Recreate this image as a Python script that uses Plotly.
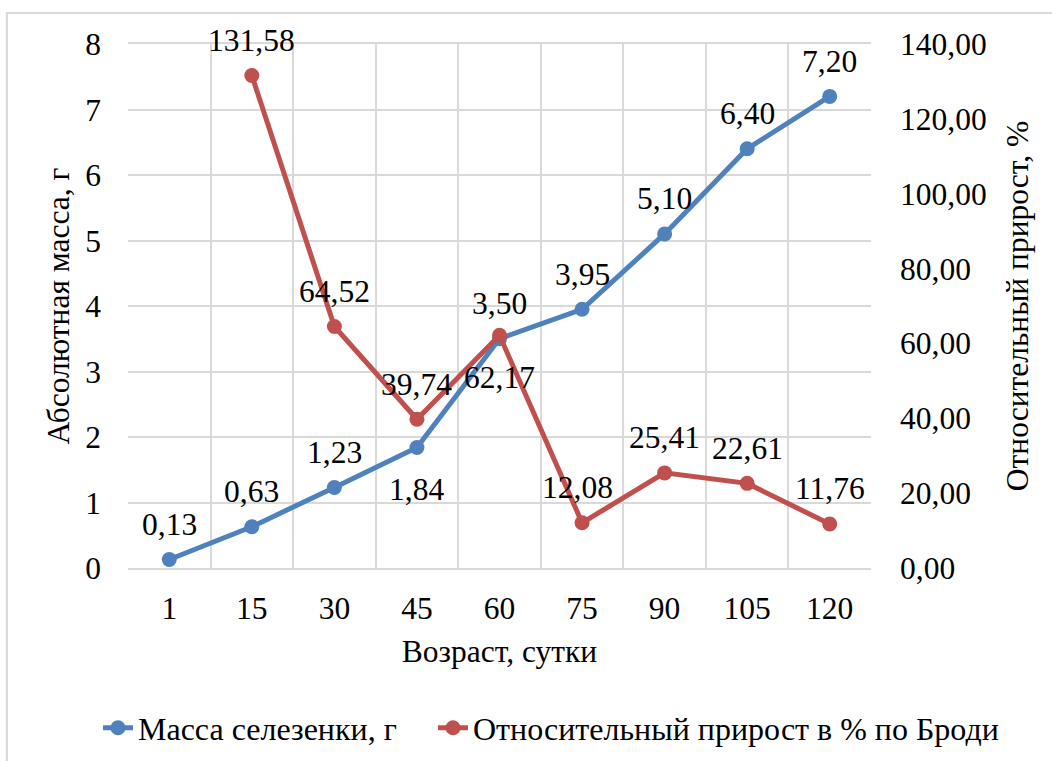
import plotly.graph_objects as go

# Age categories, days
age_days = ["1", "15", "30", "45", "60", "75", "90", "105", "120"]
# Spleen mass, g
spleen_mass = [0.13, 0.63, 1.23, 1.84, 3.50, 3.95, 5.10, 6.40, 7.20]
# Relative growth by Brody, %
brody_growth = [None, 131.58, 64.52, 39.74, 62.17, 12.08, 25.41, 22.61, 11.76]

left_ticks = [0, 1, 2, 3, 4, 5, 6, 7, 8]
right_ticks = [0, 20, 40, 60, 80, 100, 120, 140]

BLUE = "#4F81BD"
RED = "#C0504D"
GRID = "#D9D9D9"
FONT = "Liberation Serif"
FS = 31.5


def fmt(v):
    return f"{v:.2f}".replace(".", ",")


# Labels above the point, except where they would collide
mass_below = {"45"}
growth_below = {"60"}
growth_left = {"75"}

fig = go.Figure()
fig.add_trace(go.Scatter(
    x=age_days, y=spleen_mass, name="Масса селезенки, г",
    mode="lines+markers", legend="legend",
    line=dict(color=BLUE, width=5),
    marker=dict(color=BLUE, size=15),
))
fig.add_trace(go.Scatter(
    x=age_days, y=brody_growth, name="Относительный прирост в % по Броди",
    mode="lines+markers", yaxis="y2", legend="legend2",
    line=dict(color=RED, width=5),
    marker=dict(color=RED, size=15),
))

# Data labels; on a category axis annotations are placed by category index
annotations = []
for i, (xv, yv) in enumerate(zip(age_days, spleen_mass)):
    annotations.append(dict(
        x=i, y=yv, xref="x", yref="y", text=fmt(yv), showarrow=False,
        yshift=-42 if xv in mass_below else 35,
        font=dict(family=FONT, size=FS, color="black"),
    ))
for i, (xv, yv) in enumerate(zip(age_days, brody_growth)):
    if yv is None:
        continue
    annotations.append(dict(
        x=i, y=yv, xref="x", yref="y2", text=fmt(yv), showarrow=False,
        yshift=-42 if xv in growth_below else 35,
        xshift=-5 if xv in growth_left else 0,
        font=dict(family=FONT, size=FS, color="black"),
    ))

fig.update_layout(
    width=1052, height=761,
    margin=dict(l=128, r=181, t=44, b=193, autoexpand=False),
    paper_bgcolor="white", plot_bgcolor="white",
    separators=", ",
    font=dict(family=FONT, size=FS, color="black"),
    annotations=annotations,
    xaxis=dict(
        type="category", categoryorder="array", categoryarray=age_days,
        range=[-0.5, len(age_days) - 0.5], tickangle=0,
        tickson="boundaries", ticks="",
        showgrid=True, gridcolor=GRID, gridwidth=2,
        showline=True, linecolor=GRID, linewidth=2, mirror=True,
        title=dict(text="Возраст, сутки", font=dict(size=FS), standoff=15),
        tickfont=dict(size=FS), ticklabelstandoff=11, zeroline=False,
    ),
    yaxis=dict(
        range=[0, 8], tickvals=left_ticks,
        showgrid=True, gridcolor=GRID, gridwidth=2, zeroline=False,
        title=dict(text="Абсолютная масса, г", font=dict(size=FS), standoff=6),
        tickfont=dict(size=FS), ticklabelstandoff=26,
    ),
    yaxis2=dict(
        range=[0, 140], tickvals=right_ticks, tickformat=".2f",
        overlaying="y", side="right", showgrid=False, zeroline=False,
        title=dict(text="Относительный прирост, %", font=dict(size=FS), standoff=20),
        tickfont=dict(size=FS), ticklabelstandoff=28,
    ),
    legend=dict(
        orientation="h", xref="container", yref="container",
        x=98 / 1052, xanchor="left", y=1 - 728 / 761, yanchor="middle",
        font=dict(size=32), itemwidth=30, bgcolor="rgba(0,0,0,0)",
    ),
    legend2=dict(
        orientation="h", xref="container", yref="container",
        x=433 / 1052, xanchor="left", y=1 - 728 / 761, yanchor="middle",
        font=dict(size=32), itemwidth=30, bgcolor="rgba(0,0,0,0)",
    ),
    showlegend=True,
)

# Outer chart frame
fig.add_shape(
    type="rect", xref="paper", yref="paper",
    x0=-0.163, x1=1.4, y0=-0.5, y1=1.059,
    line=dict(color=GRID, width=2), fillcolor="rgba(0,0,0,0)", layer="below",
)

fig.write_html("out.html")
